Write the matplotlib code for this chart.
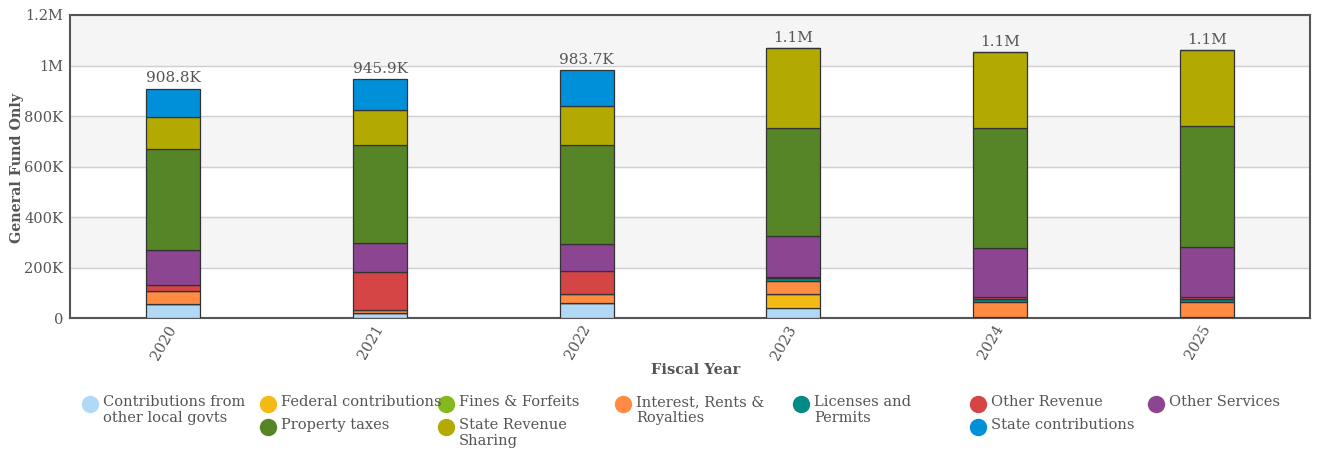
import numpy as np
import matplotlib
matplotlib.use("Agg")
import matplotlib.pyplot as plt
from matplotlib.lines import Line2D
from matplotlib.ticker import FuncFormatter

plt.rcParams['font.family'] = ['DejaVu Serif']

# data (thousands of dollars)
years = ['2020', '2021', '2022', '2023', '2024', '2025']
local_govts = [56.0, 21.0, 58.0, 39.0, 5.0, 5.0]
federal = [0.0, 0.0, 0.0, 57.0, 0.0, 0.0]
fines = [0.0, 0.0, 0.0, 0.0, 0.0, 0.0]
interest = [52.0, 12.0, 37.0, 51.0, 60.0, 60.0]
licenses = [0.0, 0.0, 0.0, 12.0, 10.0, 10.0]
other_rev = [22.0, 151.0, 93.0, 5.0, 7.0, 7.0]
other_serv = [140.0, 112.0, 105.0, 162.0, 194.0, 198.0]
property_tax = [398.0, 391.0, 394.0, 425.0, 478.0, 481.0]
state_rev_sharing = [128.0, 136.0, 151.0, 317.0, 301.0, 300.0]
state_contrib = [112.8, 122.9, 145.7, 0.0, 0.0, 0.0]

series = [
    ("Contributions from\nother local govts", local_govts, "#b1d9f5"),
    ("Federal contributions", federal, "#f5b915"),
    ("Fines & Forfeits", fines, "#86b81c"),
    ("Interest, Rents &\nRoyalties", interest, "#ff8c42"),
    ("Licenses and\nPermits", licenses, "#008c84"),
    ("Other Revenue", other_rev, "#d64545"),
    ("Other Services", other_serv, "#8b4591"),
    ("Property taxes", property_tax, "#568527"),
    ("State Revenue\nSharing", state_rev_sharing, "#b2aa00"),
    ("State contributions", state_contrib, "#0090d9"),
]

W, H = 1325, 453
fig = plt.figure(figsize=(W / 100, H / 100), dpi=100)
ax = fig.add_axes([70 / W, 1 - 318 / H, 1240 / W, 303 / H])

x = np.arange(len(years))
bottom = np.zeros(len(years))
for name, vals, col in series:
    v = np.array(vals) * 1000
    ax.bar(x, v, 0.26, bottom=bottom, color=col, edgecolor='#333333', linewidth=0.9, zorder=3)
    bottom += v

def fmt(val):
    if val >= 1e6:
        return "%.1fM" % (val / 1e6)
    return "%.1fK" % (val / 1e3)

for i, tot in enumerate(bottom):
    ax.text(x[i], tot + 12000, fmt(tot), ha='center', va='bottom', fontsize=11, color='#555555')

ax.set_xlim(-0.5, len(years) - 0.5)
ax.set_ylim(0, 1.2e6)
ax.set_yticks(np.arange(0, 1.2e6 + 1, 2e5))
ax.yaxis.set_major_formatter(FuncFormatter(
    lambda v, p: "0" if v == 0 else ("%gM" % (v / 1e6) if v >= 1e6 else "%gK" % (v / 1e3))))

# alternating bands
for k in range(6):
    if k % 2 == 1:
        ax.axhspan(k * 2e5, (k + 1) * 2e5, color='#f5f5f5', zorder=0)
ax.grid(axis='y', color='#d0d0d0', linewidth=1, zorder=1)

ax.set_xticks(x)
ax.set_xticklabels(years, rotation=60, ha='right', va='center', rotation_mode='anchor')
ax.tick_params(axis='both', length=0, labelsize=10.5, labelcolor='#555555')
ax.tick_params(axis='x', pad=6)
ax.tick_params(axis='y', pad=5)
for s in ax.spines.values():
    s.set_color('#555555')
    s.set_linewidth(1.5)

fig.text(17 / W, 1 - 168 / H, "General Fund Only", rotation=90, ha='center', va='center',
         fontsize=10.3, fontweight='bold', color='#555555')
fig.text(696 / W, 1 - 370 / H, "Fiscal Year", ha='center', va='center', fontsize=10.5,
         fontweight='bold', color='#555555')

# legend laid out like the original flow
slots = [(90, 404), (268, 404), (446, 404), (623, 404), (801, 404), (978, 404),
         (1156, 404), (268, 427), (446, 427), (978, 427)]
for (name, vals, col), (px, py) in zip(series, slots):
    fig.lines.append(Line2D([px / W], [1 - py / H], marker='o', markersize=11.5,
                            color=col, transform=fig.transFigure))
    fig.text((px + 13) / W, 1 - (py - 9) / H, name, ha='left', va='top', fontsize=10.5,
             color='#555555', linespacing=1.15)

fig.savefig("out.png", dpi=100)
